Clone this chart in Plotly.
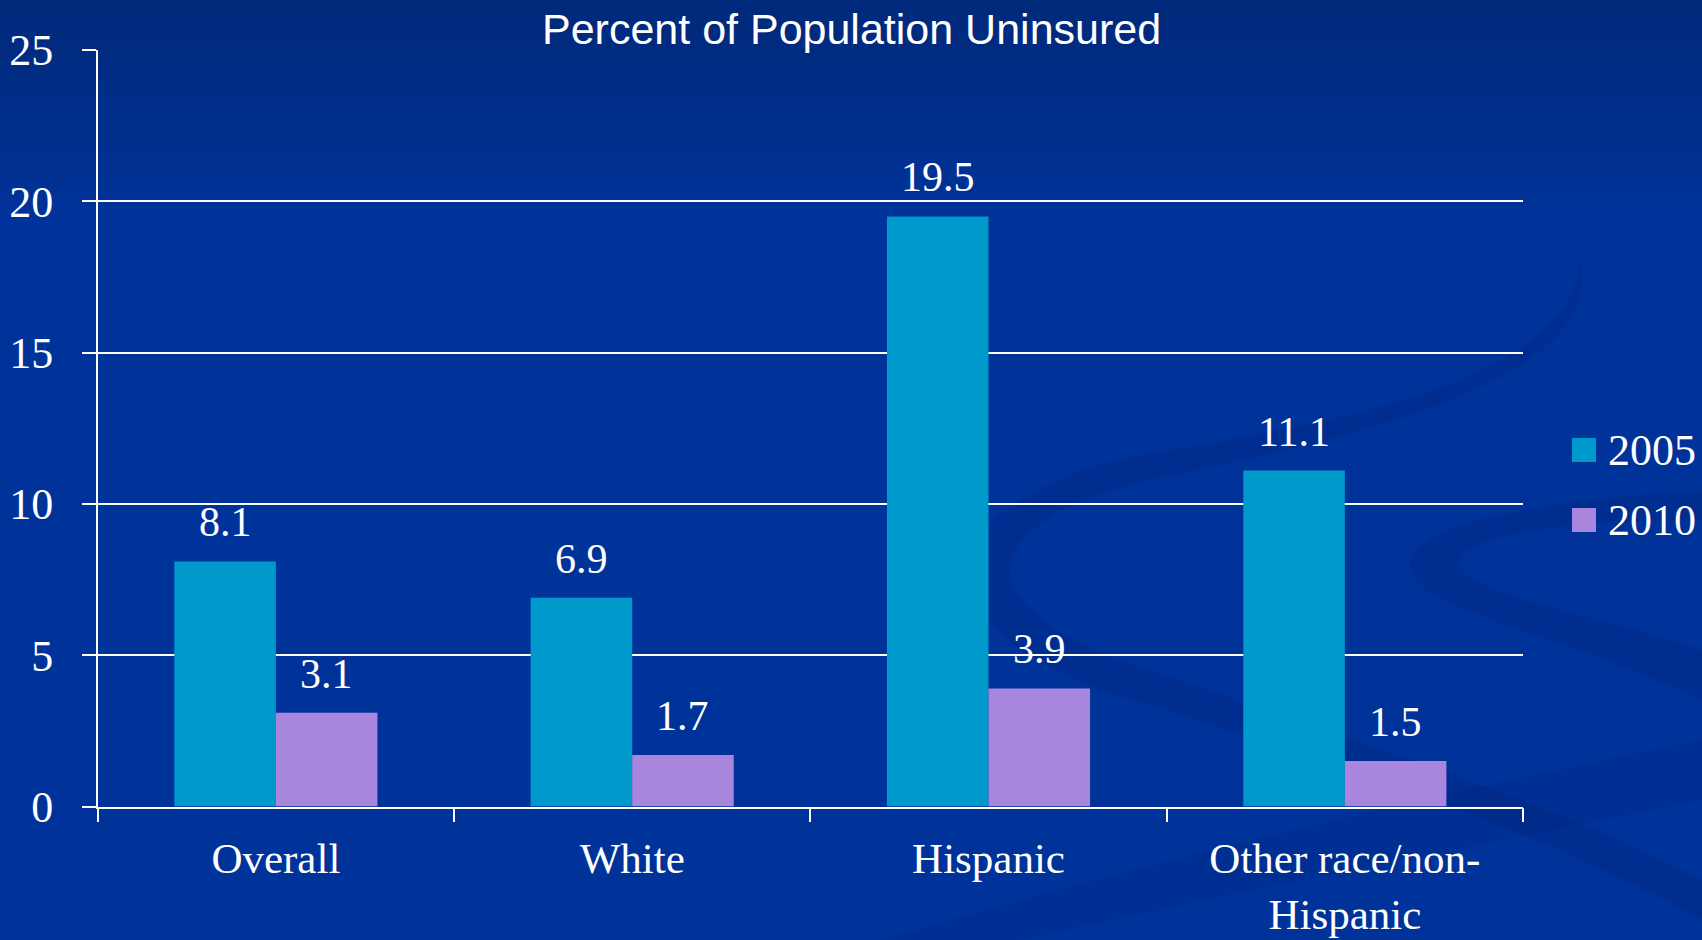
import plotly.graph_objects as go

# ---- data ----
categories = ["Overall", "White", "Hispanic", "Other race/non-<br>Hispanic"]
series_names = ["2005", "2010"]
values_2005 = [8.1, 6.9, 19.5, 11.1]
values_2010 = [3.1, 1.7, 3.9, 1.5]
series_colors = ["#0099CC", "#A886DD"]
y_ticks = [0, 5, 10, 15, 20, 25]
title_text = "Percent of Population Uninsured"

W, H = 1702, 940
BG = "#003399"
SERIF = "Liberation Serif, Times New Roman, serif"
SANS = "Liberation Sans, Arial, sans-serif"
BARGAP = 0.43


def px(x):
    return x / W


def py(y):
    return 1 - y / H


fig = go.Figure()
for name, vals, col in zip(series_names, [values_2005, values_2010], series_colors):
    fig.add_trace(go.Bar(
        x=categories, y=vals, name=name,
        marker=dict(color=col, line=dict(width=0)),
        showlegend=False,
    ))

shapes = []
# darker band at the top of the page
n_bands = 40
top_h = 220
for i in range(n_bands):
    t = i / (n_bands - 1)
    g = int(round(0x29 + (0x33 - 0x29) * t))
    b = int(round(0x7A + (0x99 - 0x7A) * t))
    y0 = top_h * i / n_bands
    y1 = top_h * (i + 1) / n_bands + 1
    shapes.append(dict(type="rect", xref="paper", yref="paper",
                       x0=0, x1=1, y0=py(y1), y1=py(y0),
                       fillcolor=f"rgb(0,{g},{b})", line=dict(width=0),
                       layer="below"))


def band(points):
    """Closed path from a list of (command, points) in pixel units."""
    parts = []
    for cmd, pts in points:
        s = " ".join(f"{px(x):.5f},{py(y):.5f}" for x, y in pts)
        parts.append(f"{cmd} {s}")
    return " ".join(parts) + " Z"


swirl_fill = "rgba(0,30,110,0.20)"
# large looping ribbon on the right
shapes.append(dict(type="path", xref="paper", yref="paper", layer="below",
                   fillcolor=swirl_fill, line=dict(width=0),
                   path=band([
                       ("M", [(1580, 260)]),
                       ("C", [(1610, 380), (1350, 440), (1150, 480)]),
                       ("C", [(980, 520), (960, 600), (1120, 660)]),
                       ("C", [(1350, 740), (1550, 800), (1702, 880)]),
                       ("L", [(1702, 920)]),
                       ("C", [(1540, 830), (1330, 760), (1100, 690)]),
                       ("C", [(910, 620), (930, 500), (1140, 455)]),
                       ("C", [(1350, 420), (1570, 380), (1580, 260)]),
                   ])))
# smaller loop near the legend
shapes.append(dict(type="path", xref="paper", yref="paper", layer="below",
                   fillcolor=swirl_fill, line=dict(width=0),
                   path=band([
                       ("M", [(1702, 490)]),
                       ("C", [(1560, 500), (1400, 520), (1410, 570)]),
                       ("C", [(1420, 610), (1550, 630), (1702, 700)]),
                       ("L", [(1702, 650)]),
                       ("C", [(1580, 610), (1450, 590), (1460, 560)]),
                       ("C", [(1470, 530), (1600, 520), (1702, 520)]),
                   ])))
# faint diagonal sweep at the bottom right
shapes.append(dict(type="path", xref="paper", yref="paper", layer="below",
                   fillcolor="rgba(0,30,110,0.14)", line=dict(width=0),
                   path=band([
                       ("M", [(880, 940)]),
                       ("C", [(1150, 860), (1450, 790), (1702, 740)]),
                       ("L", [(1702, 800)]),
                       ("C", [(1450, 850), (1200, 900), (1020, 940)]),
                   ])))

# legend drawn as swatches + labels
legend_y = [450, 520]
annotations = []
for name, col, yc in zip(series_names, series_colors, legend_y):
    shapes.append(dict(type="rect", xref="paper", yref="paper",
                       x0=px(1572), x1=px(1596), y0=py(yc + 12), y1=py(yc - 12),
                       fillcolor=col, line=dict(width=0)))
    annotations.append(dict(xref="paper", yref="paper", x=px(1606), y=py(yc),
                            xanchor="left", yanchor="middle", showarrow=False,
                            text=name, font=dict(family=SERIF, size=44, color="white")))

# value labels above each bar
half = (1 - BARGAP) / 4
for k, vals in enumerate([values_2005, values_2010]):
    off = -half if k == 0 else half
    for i, v in enumerate(vals):
        annotations.append(dict(x=i + off, y=v, xref="x", yref="y",
                                text=f"{v:.1f}", showarrow=False,
                                xanchor="center", yanchor="bottom", yshift=14,
                                font=dict(family=SERIF, size=42, color="white")))

annotations.append(dict(xref="paper", yref="paper", x=0.5, y=py(29),
                        xanchor="center", yanchor="middle", showarrow=False,
                        text=title_text,
                        font=dict(family=SANS, size=43, color="white")))

fig.update_layout(
    width=W, height=H,
    margin=dict(l=0, r=0, t=0, b=0, autoexpand=False),
    paper_bgcolor=BG,
    plot_bgcolor="rgba(0,0,0,0)",
    barmode="group", bargap=BARGAP, bargroupgap=0,
    shapes=shapes, annotations=annotations,
    showlegend=False,
    xaxis=dict(
        domain=[px(97.7), px(1523)], automargin=False,
        showline=True, linecolor="white", linewidth=1.5,
        ticks="outside", tickson="boundaries", ticklen=14,
        tickcolor="white", tickwidth=1.5,
        showgrid=False, ticklabelstandoff=13,
        tickfont=dict(family=SERIF, size=43, color="white"),
    ),
    yaxis=dict(
        domain=[py(806.5), py(50)], automargin=False,
        range=[0, 25], tickvals=y_ticks,
        showline=True, linecolor="white", linewidth=1.5,
        ticks="outside", ticklen=14, tickcolor="white", tickwidth=1.5,
        showgrid=True, gridcolor="white", gridwidth=1.5,
        zeroline=False, ticklabelstandoff=20,
        tickfont=dict(family=SERIF, size=44, color="white"),
    ),
)

fig.write_html("out.html")
